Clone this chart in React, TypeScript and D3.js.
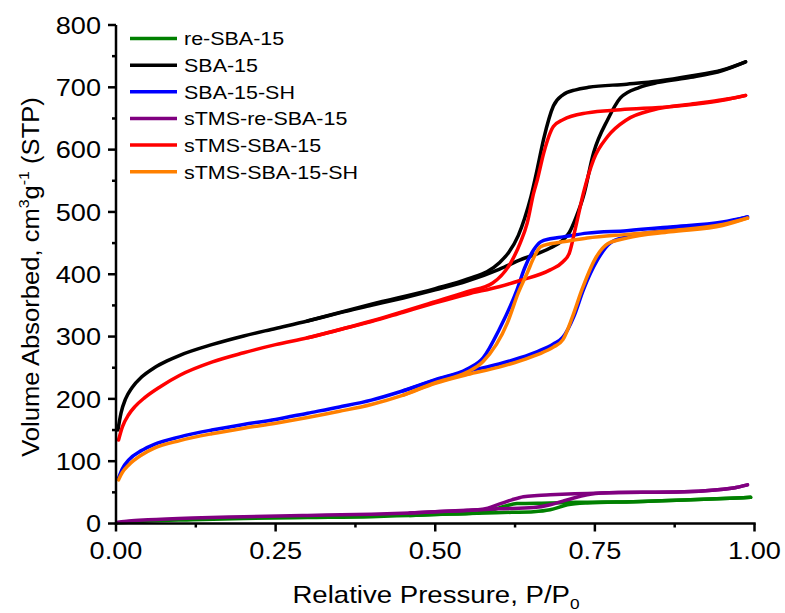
import React from "react";
import * as d3 from "d3";

// ---- data (P/P0, volume adsorbed) ----
const seriesNames = ["re-SBA-15", "SBA-15", "SBA-15-SH", "sTMS-re-SBA-15", "sTMS-SBA-15", "sTMS-SBA-15-SH"];
const seriesColors = ["#008000", "#000000", "#0000FF", "#800080", "#FF0000", "#FF8000"];

const xTicks = [0, 0.25, 0.5, 0.75, 1.0];
const xTickLabels = ["0.00", "0.25", "0.50", "0.75", "1.00"];
const yTicks = [0, 100, 200, 300, 400, 500, 600, 700, 800];

// re-SBA-15
const reSBA_adsP = [0.003, 0.02, 0.05, 0.12, 0.2, 0.3, 0.4, 0.46, 0.566, 0.62, 0.654, 0.68, 0.707, 0.738, 0.81, 0.9, 0.994];
const reSBA_adsV = [1, 2, 4, 6, 8, 9.5, 11, 13, 16.5, 18, 19, 22, 30, 33, 35, 38, 42];
const reSBA_desP = [0.46, 0.5, 0.566, 0.59, 0.61, 0.628, 0.68, 0.72, 0.81, 0.9, 0.994];
const reSBA_desV = [13, 14.5, 17, 22, 28, 32, 33, 34, 35, 38, 42];

// SBA-15
const SBA_adsP = [0.003, 0.008, 0.015, 0.025, 0.04, 0.06, 0.08, 0.1, 0.15, 0.2, 0.25, 0.3, 0.35, 0.4, 0.45, 0.5, 0.55, 0.6, 0.633, 0.68, 0.7, 0.71, 0.72, 0.732, 0.748, 0.77, 0.79, 0.82, 0.85, 0.9, 0.95, 0.986];
const SBA_adsV = [150, 178, 200, 218, 235, 250, 261, 270, 287, 301, 313, 325, 338, 350, 362, 375, 389, 408, 423, 442, 455, 467, 490, 525, 595, 648, 683, 700, 708, 716, 727, 741];
const SBA_desP = [0.3, 0.4, 0.5, 0.55, 0.6, 0.615, 0.63, 0.64, 0.65, 0.66, 0.67, 0.685, 0.7, 0.72, 0.74, 0.8, 0.85, 0.9, 0.95, 0.986];
const SBA_desV = [325, 352, 377, 392, 418, 435, 462, 490, 525, 570, 618, 670, 688, 696, 700, 705, 710, 718, 728, 741];

// SBA-15-SH
const SH_adsP = [0.004, 0.01, 0.02, 0.04, 0.06, 0.1, 0.15, 0.2, 0.25, 0.3, 0.35, 0.4, 0.45, 0.5, 0.55, 0.6, 0.633, 0.66, 0.685, 0.7, 0.717, 0.732, 0.754, 0.774, 0.8, 0.868, 0.95, 0.989];
const SH_adsV = [73, 88, 102, 117, 127, 139, 150, 159, 167, 177, 187, 198, 213, 230, 244, 256, 266, 276, 288, 299, 332, 375, 423, 450, 460, 471, 482, 492];
const SH_desP = [0.45, 0.5, 0.55, 0.575, 0.6, 0.628, 0.64, 0.654, 0.665, 0.68, 0.7, 0.738, 0.8, 0.868, 0.95, 0.989];
const SH_desV = [213, 231, 248, 266, 311, 375, 410, 439, 452, 457, 460, 466, 470, 476, 484, 492];

// sTMS-re-SBA-15
const tReSBA_adsP = [0.003, 0.02, 0.05, 0.12, 0.2, 0.3, 0.4, 0.46, 0.566, 0.6, 0.654, 0.68, 0.7, 0.717, 0.738, 0.76, 0.89, 0.967, 0.989];
const tReSBA_adsV = [2, 4, 6, 9, 11, 13, 15, 17, 22, 23.5, 25.5, 30, 36, 41, 46, 49, 51, 57, 62];
const tReSBA_desP = [0.46, 0.5, 0.55, 0.575, 0.6, 0.62, 0.638, 0.66, 0.68, 0.76, 0.89, 0.967, 0.989];
const tReSBA_desV = [17, 19, 21, 23, 31, 38, 43, 45, 46, 49, 51, 57, 62];

// sTMS-SBA-15
const tSBA_adsP = [0.004, 0.01, 0.02, 0.03, 0.045, 0.07, 0.1, 0.15, 0.2, 0.25, 0.3, 0.35, 0.4, 0.45, 0.5, 0.55, 0.6, 0.633, 0.68, 0.7, 0.71, 0.72, 0.732, 0.748, 0.77, 0.8, 0.842, 0.9, 0.95, 0.986];
const tSBA_adsV = [134, 155, 175, 188, 202, 220, 238, 259, 274, 287, 298, 311, 324, 339, 354, 368, 380, 390, 407, 420, 434, 476, 530, 584, 621, 648, 664, 673, 680, 687];
const tSBA_desP = [0.3, 0.4, 0.5, 0.55, 0.59, 0.618, 0.633, 0.644, 0.654, 0.66, 0.67, 0.685, 0.7, 0.738, 0.79, 0.868, 0.95, 0.986];
const tSBA_desV = [298, 325, 356, 372, 386, 418, 450, 482, 530, 552, 595, 637, 648, 659, 664, 669, 679, 687];

// sTMS-SBA-15-SH
const tSH_adsP = [0.004, 0.01, 0.02, 0.04, 0.06, 0.1, 0.15, 0.2, 0.25, 0.3, 0.35, 0.4, 0.45, 0.5, 0.55, 0.6, 0.633, 0.66, 0.685, 0.7, 0.715, 0.73, 0.75, 0.77, 0.8, 0.868, 0.95, 0.989];
const tSH_adsV = [70, 82, 94, 110, 121, 133, 144, 153, 161, 170, 180, 191, 206, 225, 239, 251, 261, 271, 283, 295, 332, 376, 424, 449, 458, 468, 478, 490];
const tSH_desP = [0.45, 0.5, 0.55, 0.575, 0.613, 0.63, 0.644, 0.655, 0.665, 0.68, 0.7, 0.738, 0.8, 0.868, 0.95, 0.989];
const tSH_desV = [206, 226, 243, 260, 322, 370, 402, 428, 444, 449, 452, 458, 464, 470, 480, 490];

const branches: [number[], number[]][][] = [
  [[reSBA_adsP, reSBA_adsV], [reSBA_desP, reSBA_desV]],
  [[SBA_adsP, SBA_adsV], [SBA_desP, SBA_desV]],
  [[SH_adsP, SH_adsV], [SH_desP, SH_desV]],
  [[tReSBA_adsP, tReSBA_adsV], [tReSBA_desP, tReSBA_desV]],
  [[tSBA_adsP, tSBA_adsV], [tSBA_desP, tSBA_desV]],
  [[tSH_adsP, tSH_adsV], [tSH_desP, tSH_desV]],
];

const FONT = "'Liberation Sans', Arial, sans-serif";
const SX = 1.13; // horizontal stretch of the reference lettering

export default function App() {
  const W = 785, H = 613;
  const x = d3.scaleLinear().domain([0, 1]).range([116, 754.5]);
  const y = d3.scaleLinear().domain([0, 800]).range([523.5, 25]);
  const line = d3
    .line<[number, number]>()
    .x((d) => x(d[0]))
    .y((d) => y(d[1]))
    .curve(d3.curveMonotoneX);

  const xMinor = d3.range(0.125, 1, 0.25);
  const yMinor = d3.range(50, 800, 100);

  return (
    <svg width={W} height={H} style={{ position: "absolute", left: 0, top: 0, background: "#fff" }} fontFamily={FONT}>
      {/* curves */}
      <g fill="none" strokeWidth={3.5} strokeLinejoin="round" strokeLinecap="round">
        {branches.map((br, i) =>
          br.map(([ps, vs], j) => (
            <path
              key={`${i}-${j}`}
              d={line(ps.map((p, k) => [p, vs[k]] as [number, number])) || ""}
              stroke={seriesColors[i]}
            />
          ))
        )}
      </g>

      {/* axes */}
      <g stroke="#000" strokeWidth={2.5}>
        <line x1={x(0)} x2={x(0)} y1={y(800)} y2={y(0) + 1.2} />
        <line x1={x(0) - 1.2} x2={x(1) + 1.2} y1={y(0)} y2={y(0)} />
        {yTicks.map((t) => (
          <line key={"yt" + t} x1={x(0) - 8} x2={x(0)} y1={y(t)} y2={y(t)} />
        ))}
        {yMinor.map((t) => (
          <line key={"ym" + t} x1={x(0) - 4} x2={x(0)} y1={y(t)} y2={y(t)} />
        ))}
        {xTicks.map((t) => (
          <line key={"xt" + t} x1={x(t)} x2={x(t)} y1={y(0)} y2={y(0) + 8} />
        ))}
        {xMinor.map((t) => (
          <line key={"xm" + t} x1={x(t)} x2={x(t)} y1={y(0)} y2={y(0) + 4} />
        ))}
      </g>

      {/* tick labels */}
      <g fontSize={24} fill="#000">
        {yTicks.map((t) => (
          <text
            key={"yl" + t}
            transform={`translate(${x(0) - 15},${y(t)}) scale(${SX},1)`}
            textAnchor="end"
            dy="0.36em"
          >
            {t}
          </text>
        ))}
        {xTicks.map((t, i) => (
          <text key={"xl" + t} transform={`translate(${x(t)},559) scale(${SX},1)`} textAnchor="middle">
            {xTickLabels[i]}
          </text>
        ))}
      </g>

      {/* axis titles */}
      <text transform={`translate(436,603) scale(1.15,1)`} textAnchor="middle" fontSize={24} fill="#000">
        Relative Pressure, P/P
        <tspan fontSize={15} dy={6}>0</tspan>
      </text>
      <text transform="translate(39,277) rotate(-90) scale(1.065,1)" textAnchor="middle" fontSize={24} fill="#000">
        Volume Absorbed, cm
        <tspan fontSize={15} dy={-10}>3</tspan>
        <tspan dy={10}>g</tspan>
        <tspan fontSize={15} dy={-10}>-1</tspan>
        <tspan dy={10}> (STP)</tspan>
      </text>

      {/* legend */}
      <g>
        {seriesNames.map((n, i) => {
          const ly = 38.5 + i * 26.65;
          return (
            <g key={n}>
              <line x1={130} x2={177} y1={ly} y2={ly} stroke={seriesColors[i]} strokeWidth={3.5} />
              <text transform={`translate(184,${ly}) scale(${SX},1)`} dy="0.36em" fontSize={19} fill="#000">
                {n}
              </text>
            </g>
          );
        })}
      </g>
    </svg>
  );
}
